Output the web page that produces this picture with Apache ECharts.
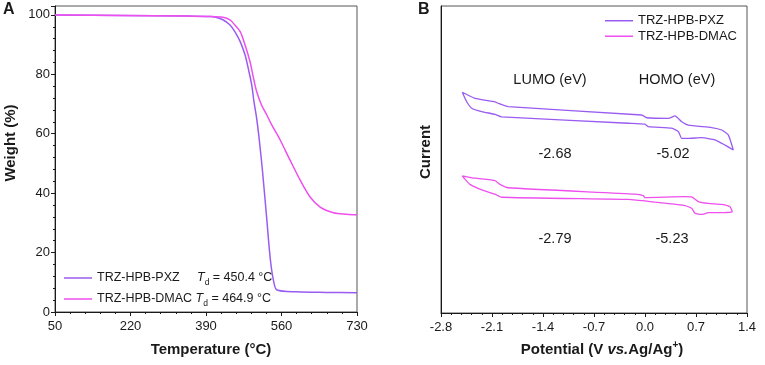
<!DOCTYPE html>
<html>
<head>
<meta charset="utf-8">
<script src="https://cdn.jsdelivr.net/npm/echarts@6.0.0/dist/echarts.min.js"></script>
<style>
  html, body { margin: 0; padding: 0; background: #fff; }
  #main { width: 765px; height: 365px; }
</style>
</head>
<body>
<div id="main"></div>
<script>
// ---- data ----
var seriesNames = ['TRZ-HPB-PXZ', 'TRZ-HPB-DMAC'];
var tdValues = ['450.4', '464.9'];

// panel A: TGA
var tempTicks = [50, 220, 390, 560, 730];
var weightTicks = [0, 20, 40, 60, 80, 100];

var pxzTemp = [50, 200, 350, 400, 410, 429, 444, 455, 467, 478, 485, 493, 498, 503, 506, 510, 517, 527, 535, 543, 550, 594, 660, 730];
var pxzWeight = [100, 99.8, 99.6, 99.5, 99.3, 98.3, 96.6, 94.4, 91.0, 86.5, 82.1, 76.4, 70.8, 66.3, 63.0, 57.9, 47.8, 31.0, 17.5, 9.8, 7.4, 6.8, 6.6, 6.5];

var dmacTemp = [50, 200, 350, 400, 428, 444, 455, 467, 478, 489, 497, 504, 515, 527, 538, 557, 579, 602, 624, 647, 677, 707, 730];
var dmacWeight = [100, 99.8, 99.6, 99.5, 99.2, 98.3, 96.6, 94.4, 89.9, 84.3, 78.7, 74.2, 69.7, 66.3, 63.0, 57.9, 51.2, 44.4, 38.8, 35.3, 33.4, 32.9, 32.7];

// panel B: CV (current in arbitrary units)
var potentialTicks = [-2.8, -2.1, -1.4, -0.7, 0.0, 0.7, 1.4];

var pxzPotential = [-2.508, -2.333, -2.059, -2.014, -1.876, -0.045, 0.023, 0.320, 0.412, 0.504, 0.594, 0.915, 1.053, 1.143, 1.212,
  1.098, 0.961, 0.778, 0.594, 0.504, 0.457, 0.366, 0.045, 0.000, -0.229, -1.967, -2.059, -2.241, -2.379, -2.447, -2.508];
var pxzCurrent = [71.9, 69.9, 68.8, 68.3, 67.2, 64.5, 63.6, 63.4, 64.2, 62.3, 61.2, 60.4, 59.6, 58.0, 53.1,
  54.7, 56.4, 57.1, 56.9, 56.9, 59.1, 60.2, 60.7, 61.5, 61.8, 63.9, 64.7, 65.6, 66.7, 68.8, 71.9];

var dmacPotential = [-2.508, -2.333, -2.059, -1.990, -1.876, -0.137, -0.023, 0.000, 0.549, 0.641, 0.731, 0.869, 1.053, 1.167, 1.198,
  1.053, 0.869, 0.778, 0.686, 0.641, 0.549, 0.137, 0.000, -0.229, -1.967, -2.059, -2.241, -2.402, -2.471, -2.508];
var dmacCurrent = [44.7, 43.9, 43.1, 41.9, 40.8, 38.7, 38.2, 37.6, 37.9, 37.8, 36.3, 35.7, 35.4, 34.6, 33.0,
  32.7, 32.7, 32.1, 32.5, 34.1, 35.0, 36.1, 36.5, 37.0, 37.7, 38.7, 40.1, 41.9, 43.6, 44.7];

var lumoLabels = ['-2.68', '-2.79'];
var homoLabels = ['-5.02', '-5.23'];

var colors = ['#9a5cf0', '#ee4fee'];

// ---- chart ----
var myChart = echarts.init(document.getElementById('main'));

var tempMin = tempTicks[0];
var zip = function (xs, ys, shift) {
    return xs.map(function (x, i) { return [x - (shift || 0), ys[i]]; });
};

var font = 'Liberation Sans, Arial, sans-serif';
var ink = '#1a1a1a';

var axisCommon = {
    axisLine: { show: true, onZero: false, lineStyle: { color: ink, width: 1 } },
    axisTick: { show: true, inside: false, length: 4, lineStyle: { color: ink } },
    minorTick: { show: true, splitNumber: 5, length: 2, lineStyle: { color: ink } },
    splitLine: { show: false },
    axisLabel: { fontFamily: font, fontSize: 13, color: ink }
};

var option = {
    animation: false,
    textStyle: { fontFamily: font },
    grid: [
        { left: 55, top: 6, width: 302, height: 306, show: true, borderColor: '#555', borderWidth: 1 },
        { left: 441, top: 6, width: 306, height: 307, show: true, borderColor: '#555', borderWidth: 1 }
    ],
    xAxis: [
        echarts.util.merge({
            gridIndex: 0, type: 'value',
            min: 0, max: tempTicks[tempTicks.length - 1] - tempMin,
            interval: tempTicks[1] - tempTicks[0],
            axisLabel: { margin: 8, formatter: function (v) { return v + tempMin; } }
        }, axisCommon),
        echarts.util.merge({
            gridIndex: 1, type: 'value',
            min: potentialTicks[0], max: potentialTicks[potentialTicks.length - 1],
            interval: 0.7,
            axisLabel: { margin: 8, formatter: function (v) { return v.toFixed(1); } }
        }, axisCommon)
    ],
    yAxis: [
        echarts.util.merge({
            gridIndex: 0, type: 'value',
            min: weightTicks[0], max: 103, interval: weightTicks[1] - weightTicks[0],
            axisLabel: { margin: 5, showMaxLabel: false }
        }, axisCommon),
        {
            gridIndex: 1, type: 'value', min: 0, max: 100,
            axisLine: { show: true, onZero: false, lineStyle: { color: ink } },
            axisTick: { show: false }, axisLabel: { show: false }, splitLine: { show: false }
        }
    ],
    legend: [
        {
            data: seriesNames, orient: 'vertical', left: 59, top: 264,
            icon: 'rect', itemWidth: 28, itemHeight: 1.5, itemGap: 3,
            formatter: function (name) {
                var i = seriesNames.indexOf(name);
                var gap = i === 0 ? '     ' : ' ';
                return name + gap + '{t|T}{s|d}' + ' = ' + tdValues[i] + ' °C';
            },
            textStyle: {
                fontFamily: font, fontSize: 12.5, color: ink, lineHeight: 18,
                rich: {
                    t: { fontFamily: font, fontSize: 12.5, fontStyle: 'italic', color: ink, lineHeight: 18 },
                    s: { fontFamily: font, fontSize: 8.5, color: ink, verticalAlign: 'bottom' }
                }
            }
        },
        {
            data: seriesNames, orient: 'vertical', left: 600, top: 8,
            icon: 'rect', itemWidth: 28, itemHeight: 1.5, itemGap: 0,
            textStyle: { fontFamily: font, fontSize: 13, color: ink, lineHeight: 15.5 }
        }
    ],
    series: [
        { name: seriesNames[0], type: 'line', xAxisIndex: 0, yAxisIndex: 0, symbol: 'none', smooth: 0.3,
          lineStyle: { color: colors[0], width: 1.5 }, itemStyle: { color: colors[0] },
          data: zip(pxzTemp, pxzWeight, tempMin) },
        { name: seriesNames[1], type: 'line', xAxisIndex: 0, yAxisIndex: 0, symbol: 'none', smooth: 0.3,
          lineStyle: { color: colors[1], width: 1.5 }, itemStyle: { color: colors[1] },
          data: zip(dmacTemp, dmacWeight, tempMin) },
        { name: seriesNames[0], type: 'line', xAxisIndex: 1, yAxisIndex: 1, symbol: 'none', smooth: 0.15,
          lineStyle: { color: colors[0], width: 1.3 }, itemStyle: { color: colors[0] },
          data: zip(pxzPotential, pxzCurrent) },
        { name: seriesNames[1], type: 'line', xAxisIndex: 1, yAxisIndex: 1, symbol: 'none', smooth: 0.15,
          lineStyle: { color: colors[1], width: 1.3 }, itemStyle: { color: colors[1] },
          data: zip(dmacPotential, dmacCurrent) }
    ],
    graphic: [
        { type: 'text', left: 3, top: 2, style: { text: 'A', font: 'bold 16px ' + font, fill: ink } },
        { type: 'text', left: 418, top: 2, style: { text: 'B', font: 'bold 16px ' + font, fill: ink } },
        { type: 'text', x: 11, y: 143, rotation: Math.PI / 2,
          style: { text: 'Weight (%)', font: 'bold 15px ' + font, fill: ink, align: 'center', verticalAlign: 'middle' } },
        { type: 'text', x: 211, y: 350,
          style: { text: 'Temperature (°C)', font: 'bold 15px ' + font, fill: ink, align: 'center', verticalAlign: 'middle' } },
        { type: 'text', x: 426, y: 152, rotation: Math.PI / 2,
          style: { text: 'Current', font: 'bold 15px ' + font, fill: ink, align: 'center', verticalAlign: 'middle' } },
        { type: 'text', x: 602, y: 350,
          style: {
              text: 'Potential (V {i|vs.}Ag/Ag{p|+})', font: 'bold 15px ' + font, fill: ink,
              align: 'center', verticalAlign: 'middle', lineHeight: 20,
              rich: {
                  i: { font: 'italic bold 15px ' + font, fill: ink, lineHeight: 20 },
                  p: { font: 'bold 10px ' + font, fill: ink, verticalAlign: 'top' }
              }
          } },
        { type: 'text', x: 550, y: 80, style: { text: 'LUMO (eV)', font: '14.5px ' + font, fill: ink, align: 'center', verticalAlign: 'middle' } },
        { type: 'text', x: 677, y: 80, style: { text: 'HOMO (eV)', font: '14.5px ' + font, fill: ink, align: 'center', verticalAlign: 'middle' } },
        { type: 'text', x: 555, y: 154, style: { text: lumoLabels[0], font: '14.5px ' + font, fill: ink, align: 'center', verticalAlign: 'middle' } },
        { type: 'text', x: 673, y: 154, style: { text: homoLabels[0], font: '14.5px ' + font, fill: ink, align: 'center', verticalAlign: 'middle' } },
        { type: 'text', x: 555, y: 239, style: { text: lumoLabels[1], font: '14.5px ' + font, fill: ink, align: 'center', verticalAlign: 'middle' } },
        { type: 'text', x: 672, y: 239, style: { text: homoLabels[1], font: '14.5px ' + font, fill: ink, align: 'center', verticalAlign: 'middle' } }
    ]
};

myChart.setOption(option);
</script>
</body>
</html>
